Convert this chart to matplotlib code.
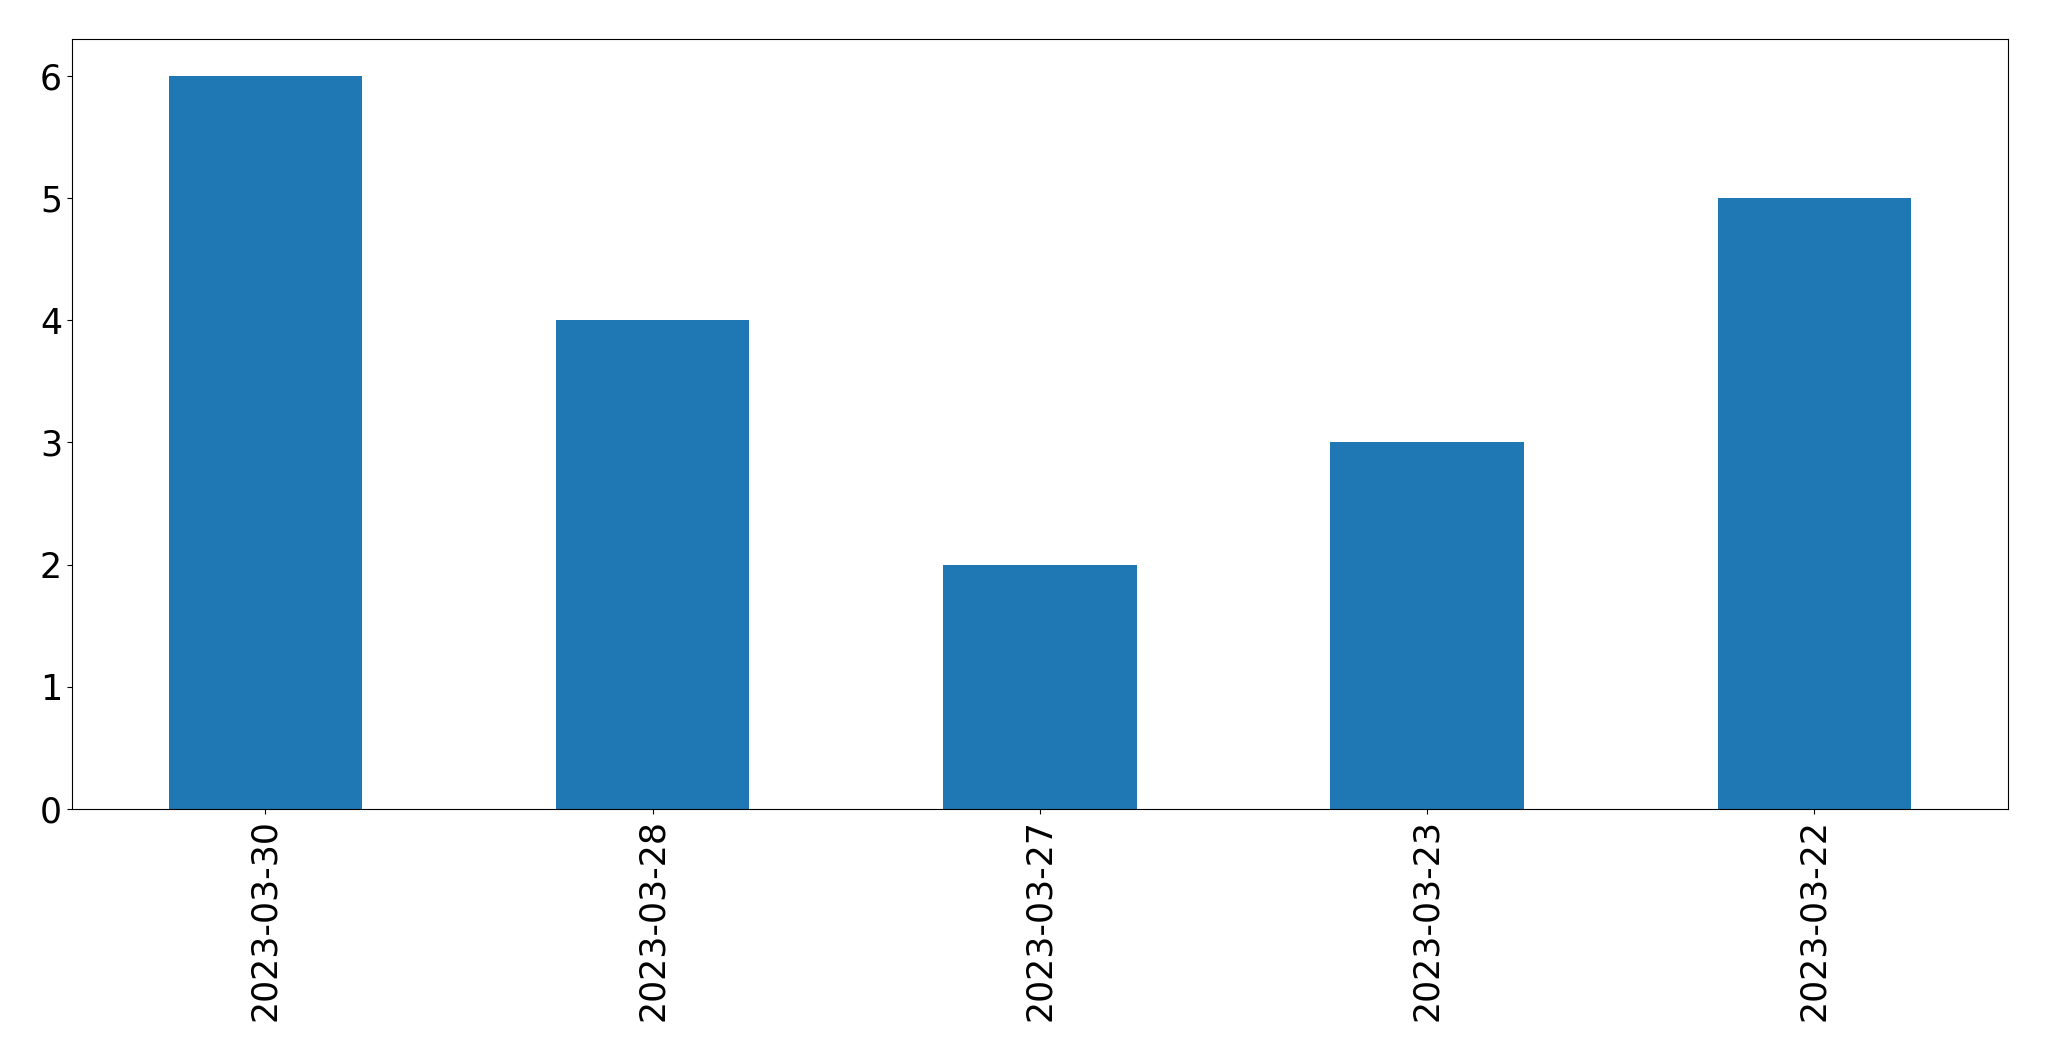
import pandas as pd
import matplotlib
matplotlib.use("Agg")
import matplotlib.pyplot as plt

# dados do grafico
dates = ["2023-03-30", "2023-03-28", "2023-03-27", "2023-03-23", "2023-03-22"]
counts = [6, 4, 2, 3, 5]

s = pd.Series(counts, index=dates)

fig = plt.figure(figsize=(20.49, 10.61), dpi=100)
ax = fig.add_axes([0.035, 0.2375, 0.945, 0.7255])

s.plot(kind="bar", ax=ax, color="#1f77b4", width=0.5)

ax.tick_params(axis="both", labelsize=25)
ax.set_ylim(0, 6.3)

fig.savefig("out.png", dpi=100)
